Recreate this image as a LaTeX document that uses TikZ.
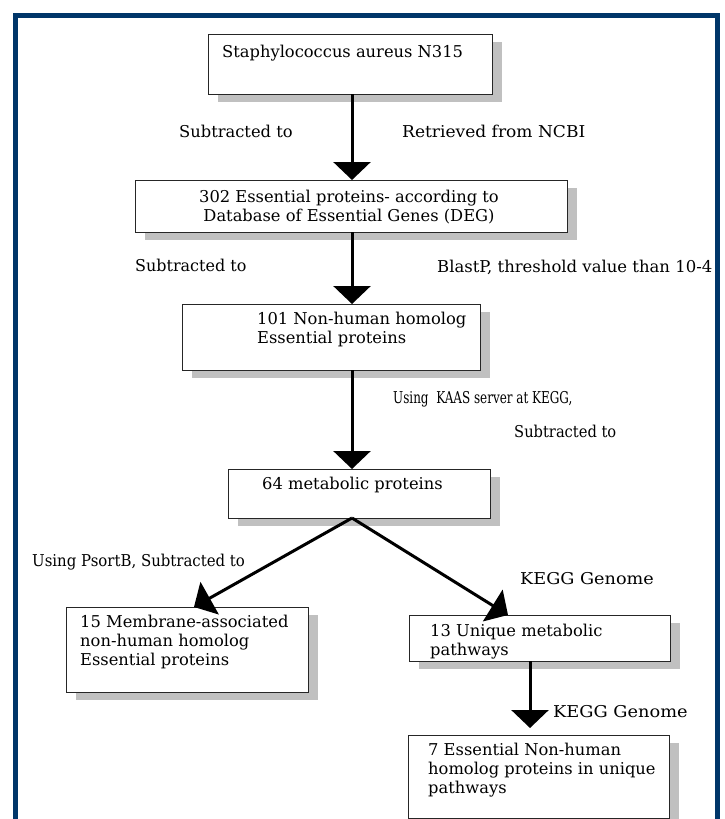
\documentclass[tikz,border=0pt]{standalone}
\usepackage{fontspec}
\setmainfont{DejaVu Serif}
\usetikzlibrary{arrows.meta,shadows}
\definecolor{frameblue}{RGB}{0,54,105}
\definecolor{shadowgray}{RGB}{192,192,192}
\begin{document}
\begin{tikzpicture}[x=1pt,y=1pt,
  box/.style={draw=black!85, line width=1pt, fill=white, inner sep=0pt, outer sep=0pt,
    drop shadow={shadow xshift=10pt, shadow yshift=-8pt, fill=shadowgray, opacity=1}},
  txt/.style={inner sep=0pt, font=\fontsize{16.3}{19}\selectfont, align=left, anchor=north west},
  lab/.style={inner sep=0pt, font=\fontsize{16.3}{18}\selectfont, text height=12.5pt, text depth=3.5pt, anchor=west},
  arr/.style={line width=3pt, -{Triangle[length=18pt,width=37pt]}},
]
\useasboundingbox (0,0) rectangle (725,-819);
\fill[white] (0,0) rectangle (725,-819);
% frame
\draw[frameblue, line width=5.4pt] (15.4,-830) -- (15.4,-15.6) -- (717.2,-15.6) -- (717.2,-830);

% boxes
\node[box, minimum width=284pt, minimum height=60pt] (b1) at (350,-64) {};
\node[box, minimum width=432pt, minimum height=52pt] (b2) at (351,-206) {};
\node[box, minimum width=298pt, minimum height=66pt] (b3) at (331,-337) {};
\node[box, minimum width=262pt, minimum height=49pt] (b4) at (359,-493.5) {};
\node[box, minimum width=242pt, minimum height=85pt] (b5) at (187,-649.5) {};
\node[box, minimum width=261pt, minimum height=46pt] (b6) at (539.5,-638) {};
\node[box, minimum width=261pt, minimum height=83pt] (b7) at (538.5,-776.5) {};

% box texts
\node[txt] (t1) at (222,-45) {Staphylococcus aureus N315};
\node[txt, anchor=north, align=center] (t2) at (349,-190) {302 Essential proteins- according to\\Database of Essential Genes (DEG)};
\node[txt] (t3) at (257,-312) {101 Non-human homolog\\Essential proteins};
\node[txt] (t4) at (262,-477) {64 metabolic proteins};
\node[txt] (t5) at (80,-615) {15 Membrane-associated\\non-human homolog\\Essential proteins};
\node[txt] (t6) at (430,-624) {13 Unique metabolic\\pathways};
\node[txt] (t7) at (428,-743) {7 Essential Non-human\\homolog proteins in unique\\pathways};

% column coordinates
\coordinate (ax) at (352,0);
\coordinate (bx) at (530,0);
\coordinate (tl) at (194,0);
\coordinate (tr) at (508,0);

% arrows
\draw[arr] (b1.south -| ax) -- (b2.north -| ax);
\draw[arr] (b2.south -| ax) -- (b3.north -| ax);
\draw[arr] (b3.south -| ax) -- (b4.north -| ax);
\draw[arr] (b4.south -| ax) -- (b5.north -| tl);
\draw[arr] (b4.south -| ax) -- (b6.north -| tr);
\draw[arr, shorten >=7pt] (b6.south -| bx) -- (b7.north -| bx);

% labels
\node[lab] (l1) at (179,-133) {Subtracted to};
\node[lab] (l2) at (402,-133) {\scalebox{1.046}[1]{Retrieved from NCBI}};
\node[lab] (l3) at (135,-267) {\scalebox{0.98}[1]{Subtracted to}};
\node[lab] (l4) at (437,-268) {\scalebox{1.01}[1]{BlastP, threshold value than 10-4}};
\node[lab] (l5) at (393,-399) {\scalebox{0.735}[1]{Using\ \ KAAS server at KEGG,}};
\node[lab] (l6) at (514,-433) {\scalebox{0.90}[1]{Subtracted to}};
\node[lab] (l7) at (32,-562) {\scalebox{0.916}[1]{Using PsortB, Subtracted to}};
\node[lab] (l8) at (520,-580) {\scalebox{1.083}[1]{KEGG Genome}};
\node[lab] (l9) at (553,-713) {\scalebox{1.09}[1]{KEGG Genome}};
\end{tikzpicture}
\end{document}
